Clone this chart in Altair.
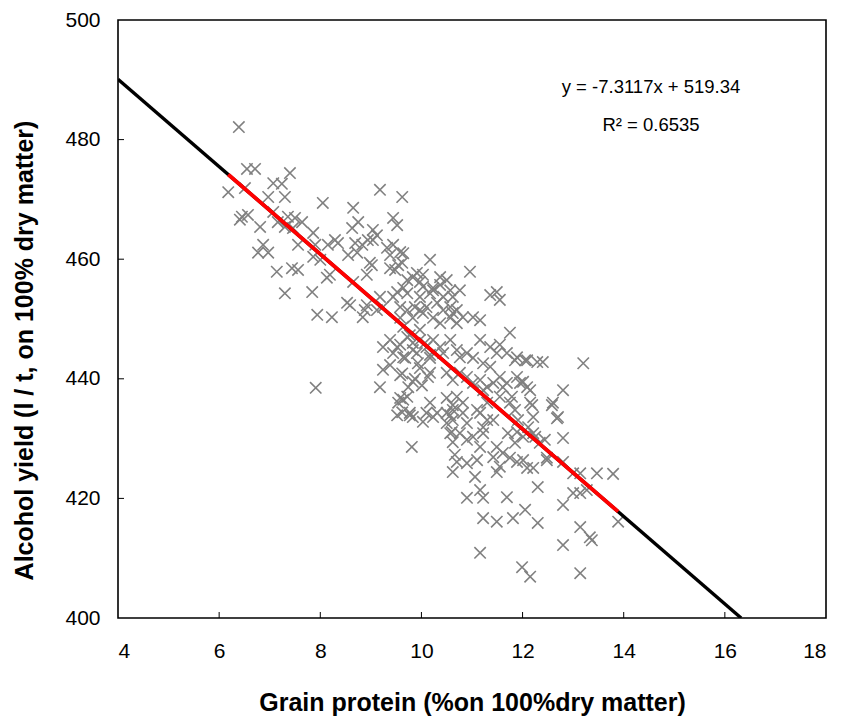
import altair as alt
import pandas as pd

# Grain protein (% on 100% dry matter) and alcohol yield (l/t on 100% dry matter)
protein = [
    6.39, 6.55, 6.71, 7.40, 6.18, 6.51, 7.07, 7.24, 6.97, 7.30,
    8.05, 8.65, 6.45, 6.57, 6.41, 6.81, 7.07, 7.16, 7.36, 7.50,
    7.64, 7.30, 7.46, 7.86, 8.63, 8.75, 8.29, 8.15, 8.35, 6.87,
    6.77, 6.97, 7.56, 7.90, 8.69, 8.83, 9.18, 9.62, 9.44, 9.52,
    8.55, 8.73, 9.04, 9.12, 8.94, 9.04, 9.32, 9.44, 9.58, 9.38,
    7.86, 8.00, 8.13, 8.19, 7.14, 7.44, 7.56, 7.30, 7.84, 8.59,
    8.92, 9.02, 9.38, 9.48, 9.54, 7.94, 8.23, 8.84, 9.72, 9.83,
    10.17, 8.98, 8.65, 9.91, 10.03, 9.97, 10.37, 10.50, 10.37, 9.64,
    9.72, 9.52, 9.44, 10.03, 10.17, 10.23, 9.97, 10.57, 10.62, 10.43,
    8.92, 9.18, 9.24, 9.12, 9.58, 9.72, 9.87, 9.97, 10.10, 10.31,
    10.43, 10.57, 10.70, 9.58, 9.83, 10.03, 10.23, 10.37, 10.57, 10.70,
    9.38, 9.52, 9.72, 9.83, 9.97, 10.10, 10.23, 10.37, 10.57, 10.70,
    9.44, 9.64, 9.91, 10.17, 10.43, 8.53, 8.88, 9.24, 9.64, 9.62,
    10.96, 11.36, 11.49, 11.55, 10.76, 10.23, 10.62, 10.82, 11.02, 11.16,
    11.75, 12.09, 12.29, 12.40, 13.20, 11.16, 11.36, 11.55, 11.49, 11.69,
    11.89, 10.90, 11.02, 10.76, 11.22, 11.36, 11.95, 12.09, 12.15, 12.80,
    12.60, 12.68, 12.21, 12.15, 11.61, 11.55, 11.75, 11.22, 11.30, 11.16,
    11.42, 10.70, 10.82, 10.62, 10.17, 10.31, 10.03, 9.72, 9.62, 9.83,
    10.50, 10.90, 11.22, 9.64, 9.77, 9.97, 9.58, 9.83, 10.07, 9.68,
    9.93, 10.17, 9.62, 9.87, 10.13, 9.74, 10.01, 10.50, 10.62, 10.76,
    10.90, 11.02, 11.16, 11.30, 11.42, 11.55, 11.69, 11.89, 12.01, 9.18,
    9.58, 9.54, 9.64, 9.52, 9.77, 9.81, 9.24, 9.38, 9.58, 9.83,
    9.97, 10.17, 10.50, 10.62, 10.57, 10.60, 10.62, 10.66, 10.62, 7.91,
    10.90, 11.16, 11.22, 11.69, 12.30, 11.22, 11.49, 11.81, 12.05, 12.30,
    11.16, 11.99, 12.15, 12.80, 12.80, 13.14, 13.33, 13.37, 13.14, 10.70,
    10.90, 11.10, 11.06, 11.49, 11.61, 11.42, 11.55, 11.75, 11.89, 12.01,
    11.49, 12.09, 12.21, 12.48, 12.80, 10.57, 10.76, 10.90, 11.02, 11.16,
    11.22, 11.30, 11.10, 10.82, 10.62, 10.50, 10.23, 10.10, 9.77, 11.89,
    12.01, 12.21, 12.34, 12.48, 12.80, 13.00, 13.47, 13.14, 13.27, 13.14,
    13.79, 13.00, 13.89, 11.85, 12.05, 12.58, 12.70, 12.19, 12.11, 12.25,
    12.44, 11.79, 11.85, 11.91, 11.71, 11.85,
]
alcohol = [
    482.1, 475.1, 475.1, 474.4, 471.2, 471.9, 472.7, 472.6, 470.4, 470.4,
    469.4, 468.6, 467.1, 467.4, 466.6, 465.4, 467.9, 466.2, 467.1, 466.9,
    466.2, 465.4, 465.2, 464.4, 465.2, 466.2, 463.2, 462.4, 462.7, 462.4,
    461.1, 461.1, 462.4, 462.4, 462.7, 462.4, 471.6, 470.4, 466.9, 465.7,
    460.7, 461.1, 464.9, 464.0, 463.2, 463.2, 461.9, 462.4, 461.2, 460.7,
    460.4, 459.9, 456.9, 457.4, 457.9, 458.5, 458.2, 454.3, 454.5, 452.3,
    457.4, 459.0, 458.5, 458.2, 459.0, 450.7, 450.3, 450.3, 456.5, 457.0,
    459.9, 459.4, 456.2, 457.7, 457.4, 456.2, 457.0, 456.5, 455.7, 455.2,
    454.3, 454.5, 453.7, 455.4, 454.3, 455.2, 453.7, 454.8, 453.7, 453.7,
    452.3, 453.7, 452.0, 451.5, 452.0, 451.5, 452.0, 451.5, 452.0, 452.7,
    451.5, 452.0, 451.5, 450.2, 450.2, 451.0, 450.2, 449.3, 450.2, 449.3,
    446.5, 445.3, 447.0, 446.0, 446.5, 445.3, 446.5, 445.3, 446.5, 444.8,
    444.3, 443.6, 444.3, 444.0, 444.3, 452.7, 451.5, 445.3, 461.0, 459.4,
    457.9, 454.0, 454.5, 453.2, 454.8, 454.8, 451.0, 450.3, 450.3, 449.8,
    447.7, 443.1, 442.8, 442.8, 442.6, 446.5, 445.3, 445.7, 444.3, 444.3,
    443.6, 444.3, 443.5, 443.6, 442.6, 442.0, 439.3, 438.6, 438.1, 438.1,
    436.0, 433.4, 433.6, 436.0, 438.6, 437.0, 436.0, 438.1, 436.0, 434.3,
    433.1, 437.0, 436.0, 434.8, 436.0, 434.3, 432.8, 437.0, 434.4, 433.6,
    432.6, 432.6, 431.9, 448.7, 447.3, 448.2, 445.7, 444.8, 446.0, 443.5,
    442.6, 443.5, 440.9, 440.0, 440.3, 438.6, 438.9, 441.0, 439.8, 441.0,
    440.3, 439.3, 439.8, 438.6, 439.3, 440.3, 439.3, 440.3, 439.5, 438.6,
    436.8, 436.0, 436.5, 433.9, 433.9, 428.6, 441.5, 442.3, 440.6, 439.5,
    441.8, 441.0, 436.8, 435.6, 433.9, 431.1, 429.4, 427.3, 424.4, 438.5,
    420.1, 421.4, 420.1, 420.2, 421.9, 416.7, 416.1, 416.7, 418.1, 415.9,
    410.9, 408.5, 406.9, 418.9, 412.2, 415.2, 413.5, 413.0, 407.5, 426.1,
    425.9, 426.4, 423.6, 428.6, 427.6, 426.9, 425.3, 426.8, 426.1, 426.4,
    424.4, 425.1, 425.1, 426.8, 430.1, 430.9, 430.9, 429.8, 430.3, 428.6,
    430.9, 433.1, 434.8, 434.3, 433.1, 434.3, 433.6, 434.3, 434.3, 431.1,
    430.3, 430.9, 429.3, 426.4, 426.1, 424.2, 424.2, 420.9, 421.4, 424.2,
    424.1, 420.9, 416.1, 443.1, 443.1, 435.6, 433.6, 435.6, 431.9, 430.3,
    429.8, 437.0, 434.8, 433.1, 430.9, 429.3,
]

# Linear fit reported on the chart
SLOPE = -7.3117
INTERCEPT = 519.34
R2 = 0.6535

X_DOMAIN = [4, 18]
Y_DOMAIN = [400, 500]
x_ticks = [4, 6, 8, 10, 12, 14, 16, 18]
y_ticks = [400, 420, 440, 460, 480, 500]

FONT = "Liberation Sans"
W, H = 708, 598

points = pd.DataFrame({"protein": protein, "alcohol": alcohol})

# Trend line across the axis range (until it leaves the bottom of the plot)
x_end = (INTERCEPT - Y_DOMAIN[0]) / -SLOPE
trend_full = pd.DataFrame({"protein": [X_DOMAIN[0], x_end]})
trend_full["alcohol"] = INTERCEPT + SLOPE * trend_full["protein"]

# Trend line over the observed protein range
trend_data = pd.DataFrame({"protein": [min(protein), max(protein)]})
trend_data["alcohol"] = INTERCEPT + SLOPE * trend_data["protein"]

xs = alt.Scale(domain=X_DOMAIN, nice=False, zero=False)
ys = alt.Scale(domain=Y_DOMAIN, nice=False, zero=False)

x_axis = alt.Axis(
    values=x_ticks, ticks=False, grid=False, domain=False,
    labelFont=FONT, labelFontSize=21, labelColor="black", labelPadding=22,
    title="Grain protein (%on 100%dry matter)",
    titleFont=FONT, titleFontSize=25, titleFontWeight="bold", titleColor="black",
    titlePadding=29,
)
y_axis = alt.Axis(
    values=y_ticks, ticks=False, grid=False, domain=False,
    labelFont=FONT, labelFontSize=21, labelColor="black", labelPadding=18,
    title="Alcohol yield (l / t, on 100% dry matter)",
    titleFont=FONT, titleFontSize=25, titleFontWeight="bold", titleColor="black",
    titlePadding=27, titleY=330,
)

cross = "M-1,-1L1,1M-1,1L1,-1"
scatter = alt.Chart(points).mark_point(
    shape=cross, filled=False, size=130, stroke="#808080", strokeWidth=1.6, opacity=1
).encode(
    x=alt.X("protein:Q", scale=xs, axis=x_axis),
    y=alt.Y("alcohol:Q", scale=ys, axis=y_axis),
)

line_full = alt.Chart(trend_full).mark_line(color="black", strokeWidth=3.4, clip=True).encode(
    x=alt.X("protein:Q", scale=xs), y=alt.Y("alcohol:Q", scale=ys)
)
line_data = alt.Chart(trend_data).mark_line(color="#FF0000", strokeWidth=3.8, clip=True).encode(
    x=alt.X("protein:Q", scale=xs), y=alt.Y("alcohol:Q", scale=ys)
)

# Inward tick marks
xt = alt.Chart(pd.DataFrame({"v": x_ticks[1:-1]})).mark_rule(color="black", strokeWidth=1).encode(
    x=alt.X("v:Q", scale=xs), y=alt.value(H), y2=alt.value(H - 6)
)
yt = alt.Chart(pd.DataFrame({"v": y_ticks[1:-1]})).mark_rule(color="black", strokeWidth=1).encode(
    y=alt.Y("v:Q", scale=ys), x=alt.value(0), x2=alt.value(6)
)

eq_text = f"y = {SLOPE:.4f}x + {INTERCEPT:.2f}"
r2_text = f"R\u00b2 = {R2:.4f}"
labels = pd.DataFrame({
    "protein": [14.54, 14.54],
    "alcohol": [488.8, 482.4],
    "text": [eq_text, r2_text],
})
annot = alt.Chart(labels).mark_text(
    font=FONT, fontSize=18.5, color="black", align="center", baseline="middle"
).encode(
    x=alt.X("protein:Q", scale=xs), y=alt.Y("alcohol:Q", scale=ys), text="text:N"
)

chart = alt.layer(scatter, line_full, line_data, xt, yt, annot).properties(
    width=W, height=H,
    autosize=alt.AutoSizeParams(type="none"),
    padding={"left": 118, "top": 20, "right": 16, "bottom": 99},
    background="white",
).configure_view(
    stroke="black", strokeWidth=1.6
)

chart.save("out.html", embed_options={"renderer": "svg", "actions": False})
